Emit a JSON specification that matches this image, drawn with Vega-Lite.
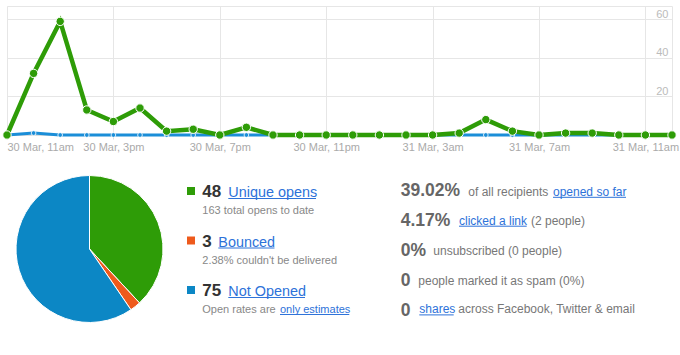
{
  "$schema": "https://vega.github.io/schema/vega-lite/v6.json",
  "padding": {"left": -3, "top": 5, "right": 0, "bottom": 0},
  "background": "white",
  "config": {
    "font": "Liberation Sans",
    "view": {"stroke": null},
    "text": {"baseline": "alphabetic", "align": "left"}
  },
  "datasets": {
    "hourly": [
      {"t": "2012-03-30T11:00", "opens": 0, "clicks": 0},
      {"t": "2012-03-30T12:00", "opens": 32, "clicks": 1},
      {"t": "2012-03-30T13:00", "opens": 59, "clicks": 0},
      {"t": "2012-03-30T14:00", "opens": 13, "clicks": 0},
      {"t": "2012-03-30T15:00", "opens": 7, "clicks": 0},
      {"t": "2012-03-30T16:00", "opens": 14, "clicks": 0},
      {"t": "2012-03-30T17:00", "opens": 2, "clicks": 0},
      {"t": "2012-03-30T18:00", "opens": 3, "clicks": 0},
      {"t": "2012-03-30T19:00", "opens": 0, "clicks": 0},
      {"t": "2012-03-30T20:00", "opens": 4, "clicks": 0},
      {"t": "2012-03-30T21:00", "opens": 0, "clicks": 0},
      {"t": "2012-03-30T22:00", "opens": 0, "clicks": 0},
      {"t": "2012-03-30T23:00", "opens": 0, "clicks": 0},
      {"t": "2012-03-31T00:00", "opens": 0, "clicks": 0},
      {"t": "2012-03-31T01:00", "opens": 0, "clicks": 0},
      {"t": "2012-03-31T02:00", "opens": 0, "clicks": 0},
      {"t": "2012-03-31T03:00", "opens": 0, "clicks": 0},
      {"t": "2012-03-31T04:00", "opens": 1, "clicks": 0},
      {"t": "2012-03-31T05:00", "opens": 8, "clicks": 0},
      {"t": "2012-03-31T06:00", "opens": 2, "clicks": 0},
      {"t": "2012-03-31T07:00", "opens": 0, "clicks": 0},
      {"t": "2012-03-31T08:00", "opens": 1, "clicks": 0},
      {"t": "2012-03-31T09:00", "opens": 1, "clicks": 0},
      {"t": "2012-03-31T10:00", "opens": 0, "clicks": 0},
      {"t": "2012-03-31T11:00", "opens": 0, "clicks": 0},
      {"t": "2012-03-31T12:00", "opens": 0, "clicks": 0}
    ],
    "summary": [
      {"line": 0, "status": "Unique opens", "count": 48, "sub": "163 total opens to date", "subLink": ""},
      {"line": 1, "status": "Bounced", "count": 3, "sub": "2.38% couldn't be delivered", "subLink": ""},
      {"line": 2, "status": "Not Opened", "count": 75, "sub": "Open rates are", "subLink": "only estimates"}
    ],
    "stats": [
      {"line": 0, "part": 0, "kind": "big", "text": "39.02%"},
      {"line": 0, "part": 1, "kind": "text", "text": "of all recipients"},
      {"line": 0, "part": 2, "kind": "link", "text": "opened so far"},
      {"line": 1, "part": 0, "kind": "big", "text": "4.17%"},
      {"line": 1, "part": 1, "kind": "link", "text": "clicked a link"},
      {"line": 1, "part": 2, "kind": "text", "text": "(2 people)"},
      {"line": 2, "part": 0, "kind": "big", "text": "0%"},
      {"line": 2, "part": 1, "kind": "text", "text": "unsubscribed (0 people)"},
      {"line": 3, "part": 0, "kind": "big", "text": "0"},
      {"line": 3, "part": 1, "kind": "text", "text": "people marked it as spam (0%)"},
      {"line": 4, "part": 0, "kind": "big", "text": "0"},
      {"line": 4, "part": 1, "kind": "link", "text": "shares"},
      {"line": 4, "part": 2, "kind": "text", "text": "across Facebook, Twitter & email"}
    ]
  },
  "bounds": "flush",
  "spacing": 34,
  "vconcat": [
    {
      "width": 665,
      "height": 129,
      "view": {"stroke": "#e6e6e6"},
      "data": {"name": "hourly"},
      "transform": [{"fold": ["opens", "clicks"], "as": ["series", "value"]}],
      "encoding": {
        "x": {
          "field": "t", "type": "temporal",
          "scale": {"nice": false},
          "axis": {
            "title": null,
            "values": [
              {"year": 2012, "month": 3, "date": 30, "hours": 11},
              {"year": 2012, "month": 3, "date": 30, "hours": 15},
              {"year": 2012, "month": 3, "date": 30, "hours": 19},
              {"year": 2012, "month": 3, "date": 30, "hours": 23},
              {"year": 2012, "month": 3, "date": 31, "hours": 3},
              {"year": 2012, "month": 3, "date": 31, "hours": 7},
              {"year": 2012, "month": 3, "date": 31, "hours": 11}
            ],
            "labelExpr": "timeFormat(datum.value, '%-d %b, ') + lower(timeFormat(datum.value, '%-I%p'))",
            "labelFlush": true,
            "labelOverlap": false,
            "grid": true,
            "gridColor": "#e6e6e6",
            "domainColor": "#dddddd",
            "tickColor": "#dddddd",
            "tickSize": 4,
            "labelColor": "#aaaaaa",
            "labelFontSize": 11,
            "labelPadding": 2
          }
        },
        "y": {
          "field": "value", "type": "quantitative",
          "scale": {"domain": [0, 67], "nice": false},
          "axis": {
            "title": null,
            "orient": "right",
            "values": [20, 40, 60],
            "domain": false,
            "ticks": false,
            "grid": true,
            "gridColor": "#e6e6e6",
            "labelAlign": "right",
            "labelBaseline": "alphabetic",
            "labelOffset": -2,
            "labelPadding": -4,
            "labelColor": "#bbbbbb",
            "labelFontSize": 11
          }
        }
      },
      "layer": [
        {
          "transform": [{"filter": "datum.series == 'clicks'"}],
          "mark": {"type": "line", "color": "#1b8ed8", "strokeWidth": 3}
        },
        {
          "transform": [{"filter": "datum.series == 'clicks'"}],
          "mark": {"type": "circle", "color": "#1b8ed8", "size": 22, "opacity": 1, "stroke": "#ffffff", "strokeWidth": 0.8}
        },
        {
          "transform": [{"filter": "datum.series == 'opens'"}],
          "mark": {"type": "line", "color": "#2e9c07", "strokeWidth": 4.5}
        },
        {
          "transform": [{"filter": "datum.series == 'opens'"}],
          "mark": {"type": "circle", "color": "#2e9c07", "size": 70, "opacity": 1, "stroke": "#ffffff", "strokeWidth": 1}
        }
      ]
    },
    {
      "bounds": "flush",
      "spacing": 0,
      "hconcat": [
        {
          "width": 165,
          "height": 160,
          "data": {"name": "summary"},
          "mark": {"type": "arc", "outerRadius": 73.5, "stroke": "#ffffff", "strokeWidth": 1},
          "encoding": {
            "theta": {"field": "count", "type": "quantitative"},
            "order": {"field": "line", "type": "quantitative"},
            "color": {
              "field": "status", "type": "nominal",
              "scale": {"domain": ["Unique opens", "Bounced", "Not Opened"], "range": ["#2e9c07", "#ee5a1c", "#0c87c5"]},
              "legend": null
            }
          }
        },
        {
          "width": 218,
          "height": 160,
          "data": {"name": "summary"},
          "encoding": {
            "y": {"field": "line", "type": "quantitative", "scale": {"domain": [-0.5657, 2.6667], "reverse": true, "nice": false, "zero": false}, "axis": null}
          },
          "layer": [
            {
              "mark": {"type": "point", "shape": "square", "filled": true, "size": 64, "opacity": 1, "yOffset": -6},
              "encoding": {
                "x": {"datum": 19, "type": "quantitative", "scale": {"domain": [0, 218], "nice": false}, "axis": null},
                "color": {
                  "field": "status", "type": "nominal",
                  "scale": {"domain": ["Unique opens", "Bounced", "Not Opened"], "range": ["#2e9c07", "#ee5a1c", "#0c87c5"]},
                  "legend": null
                }
              }
            },
            {
              "mark": {"type": "text", "fontSize": 17, "fontWeight": "bold", "color": "#333333"},
              "encoding": {
                "x": {"datum": 30.3, "type": "quantitative", "scale": {"domain": [0, 218], "nice": false}, "axis": null},
                "text": {"field": "count"}
              }
            },
            {
              "transform": [{"filter": "datum.count >= 10"}],
              "mark": {"type": "text", "fontSize": 14.4, "color": "#2d72d9"},
              "encoding": {
                "x": {"datum": 56.3, "type": "quantitative", "scale": {"domain": [0, 218], "nice": false}, "axis": null},
                "text": {"field": "status"}
              }
            },
            {
              "transform": [{"filter": "datum.count < 10"}],
              "mark": {"type": "text", "fontSize": 14.4, "color": "#2d72d9"},
              "encoding": {
                "x": {"datum": 46.3, "type": "quantitative", "scale": {"domain": [0, 218], "nice": false}, "axis": null},
                "text": {"field": "status"}
              }
            },
            {
              "mark": {"type": "text", "fontSize": 11, "color": "#888888", "yOffset": 17},
              "encoding": {
                "x": {"datum": 30.3, "type": "quantitative", "scale": {"domain": [0, 218], "nice": false}, "axis": null},
                "text": {"field": "sub"}
              }
            },
            {
              "transform": [{"filter": "datum.subLink != ''"}],
              "mark": {"type": "text", "fontSize": 11, "color": "#2d72d9", "yOffset": 17},
              "encoding": {
                "x": {"datum": 108, "type": "quantitative", "scale": {"domain": [0, 218], "nice": false}, "axis": null},
                "text": {"field": "subLink"}
              }
            },
            {
              "transform": [{"filter": "datum.line == 0"}],
              "mark": {"type": "rule", "color": "#2d72d9", "strokeWidth": 1, "yOffset": 1.5},
              "encoding": {
                "x": {"datum": 56.3, "type": "quantitative", "scale": {"domain": [0, 218], "nice": false}, "axis": null},
                "x2": {"datum": 144}
              }
            },
            {
              "transform": [{"filter": "datum.line == 1"}],
              "mark": {"type": "rule", "color": "#2d72d9", "strokeWidth": 1, "yOffset": 1.5},
              "encoding": {
                "x": {"datum": 46.3, "type": "quantitative", "scale": {"domain": [0, 218], "nice": false}, "axis": null},
                "x2": {"datum": 102.5}
              }
            },
            {
              "transform": [{"filter": "datum.line == 2"}],
              "mark": {"type": "rule", "color": "#2d72d9", "strokeWidth": 1, "yOffset": 1.5},
              "encoding": {
                "x": {"datum": 56.3, "type": "quantitative", "scale": {"domain": [0, 218], "nice": false}, "axis": null},
                "x2": {"datum": 133}
              }
            },
            {
              "transform": [{"filter": "datum.line == 2"}],
              "mark": {"type": "rule", "color": "#2d72d9", "strokeWidth": 1, "yOffset": 18.5},
              "encoding": {
                "x": {"datum": 108, "type": "quantitative", "scale": {"domain": [0, 218], "nice": false}, "axis": null},
                "x2": {"datum": 177.3}
              }
            }
          ]
        },
        {
          "width": 290,
          "height": 160,
          "data": {"name": "stats"},
          "encoding": {
            "y": {"field": "line", "type": "quantitative", "scale": {"domain": [-0.913, 4.438], "reverse": true, "nice": false, "zero": false}, "axis": null},
            "text": {"field": "text"}
          },
          "layer": [
            {
              "transform": [{"filter": "datum.kind == 'big'"}],
              "mark": {"type": "text", "fontSize": 17.5, "fontWeight": "bold", "color": "#666666"},
              "encoding": {"x": {"datum": 10.7, "type": "quantitative", "scale": {"domain": [0, 290], "nice": false}, "axis": null}}
            },
            {
              "transform": [{"filter": "datum.line == 0 && datum.part == 1"}],
              "mark": {"type": "text", "fontSize": 12, "color": "#777777", "yOffset": -0.5},
              "encoding": {"x": {"datum": 78.3, "type": "quantitative", "scale": {"domain": [0, 290], "nice": false}, "axis": null}}
            },
            {
              "transform": [{"filter": "datum.line == 0 && datum.part == 2"}],
              "mark": {"type": "text", "fontSize": 12, "color": "#2d72d9", "yOffset": -0.5},
              "encoding": {"x": {"datum": 163, "type": "quantitative", "scale": {"domain": [0, 290], "nice": false}, "axis": null}}
            },
            {
              "transform": [{"filter": "datum.line == 1 && datum.part == 1"}],
              "mark": {"type": "text", "fontSize": 12, "color": "#2d72d9", "yOffset": -1.5},
              "encoding": {"x": {"datum": 69, "type": "quantitative", "scale": {"domain": [0, 290], "nice": false}, "axis": null}}
            },
            {
              "transform": [{"filter": "datum.line == 1 && datum.part == 2"}],
              "mark": {"type": "text", "fontSize": 12, "color": "#777777", "yOffset": -1.5},
              "encoding": {"x": {"datum": 141, "type": "quantitative", "scale": {"domain": [0, 290], "nice": false}, "axis": null}}
            },
            {
              "transform": [{"filter": "datum.line == 2 && datum.part == 1"}],
              "mark": {"type": "text", "fontSize": 12, "color": "#777777", "yOffset": -1.5},
              "encoding": {"x": {"datum": 43.3, "type": "quantitative", "scale": {"domain": [0, 290], "nice": false}, "axis": null}}
            },
            {
              "transform": [{"filter": "datum.line == 3 && datum.part == 1"}],
              "mark": {"type": "text", "fontSize": 12, "color": "#777777", "yOffset": -1.5},
              "encoding": {"x": {"datum": 28.3, "type": "quantitative", "scale": {"domain": [0, 290], "nice": false}, "axis": null}}
            },
            {
              "transform": [{"filter": "datum.line == 4 && datum.part == 1"}],
              "mark": {"type": "text", "fontSize": 12, "color": "#2d72d9", "yOffset": -2.5},
              "encoding": {"x": {"datum": 29.3, "type": "quantitative", "scale": {"domain": [0, 290], "nice": false}, "axis": null}}
            },
            {
              "transform": [{"filter": "datum.line == 4 && datum.part == 2"}],
              "mark": {"type": "text", "fontSize": 12, "color": "#777777", "yOffset": -2.5},
              "encoding": {"x": {"datum": 68.3, "type": "quantitative", "scale": {"domain": [0, 290], "nice": false}, "axis": null}}
            },
            {
              "transform": [{"filter": "datum.line == 0 && datum.part == 2"}],
              "mark": {"type": "rule", "color": "#2d72d9", "strokeWidth": 1, "yOffset": 1},
              "encoding": {
                "x": {"datum": 163, "type": "quantitative", "scale": {"domain": [0, 290], "nice": false}, "axis": null},
                "x2": {"datum": 236},
                "text": null
              }
            },
            {
              "transform": [{"filter": "datum.line == 1 && datum.part == 1"}],
              "mark": {"type": "rule", "color": "#2d72d9", "strokeWidth": 1, "yOffset": 0},
              "encoding": {
                "x": {"datum": 69, "type": "quantitative", "scale": {"domain": [0, 290], "nice": false}, "axis": null},
                "x2": {"datum": 136.7},
                "text": null
              }
            },
            {
              "transform": [{"filter": "datum.line == 4 && datum.part == 1"}],
              "mark": {"type": "rule", "color": "#2d72d9", "strokeWidth": 1, "yOffset": -1},
              "encoding": {
                "x": {"datum": 29.3, "type": "quantitative", "scale": {"domain": [0, 290], "nice": false}, "axis": null},
                "x2": {"datum": 63.7},
                "text": null
              }
            }
          ]
        }
      ]
    }
  ]
}
